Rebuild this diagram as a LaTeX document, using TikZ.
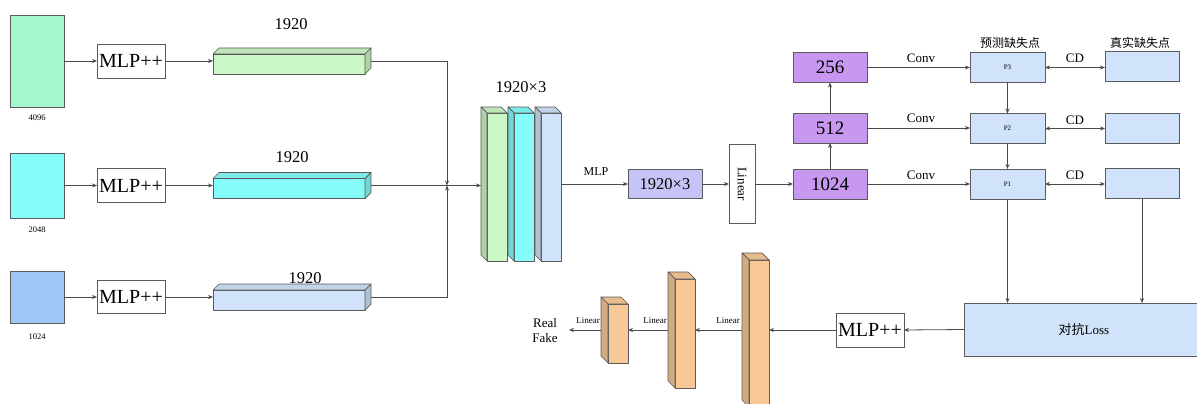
\documentclass[tikz,border=0pt]{standalone}
\usepackage{fontspec}
\setmainfont{Liberation Serif}
\newfontfamily\cjk{Noto Sans CJK SC}
\usetikzlibrary{arrows.meta,calc}
\definecolor{linec}{HTML}{4A4A4A}
\definecolor{edgec}{HTML}{5A5A5A}
\definecolor{mint}{HTML}{A6F6CC}
\definecolor{barG}{HTML}{CCF7C6}
\definecolor{cyanc}{HTML}{86FCFA}
\definecolor{bluec}{HTML}{A0C6F8}
\definecolor{lblue}{HTML}{D0E3FA}
\definecolor{lav}{HTML}{C6C4F6}
\definecolor{purp}{HTML}{C898F0}
\definecolor{orng}{HTML}{F8C996}
\newcommand{\mycubeR}[3]{%
  \coordinate (csw) at (#1.south west);
  \coordinate (cne) at (#1.north east);
  \coordinate (cnw) at (#1.north west);
  \coordinate (cse) at (#1.south east);
  \draw[face,fill=#2] (csw) rectangle ($(cne)+(-#3,-#3)$);
  \draw[face,fill=#2!93!black] ($(cnw)+(0,-#3)$) -- ($(cnw)+(#3,0)$) -- (cne) -- ($(cne)+(-#3,-#3)$) -- cycle;
  \draw[face,fill=#2!85!black] ($(cne)+(-#3,-#3)$) -- (cne) -- ($(cse)+(0,#3)$) -- ($(cse)+(-#3,0)$) -- cycle;
}
\newcommand{\mycubeL}[3]{%
  \coordinate (csw) at (#1.south west);
  \coordinate (cne) at (#1.north east);
  \coordinate (cnw) at (#1.north west);
  \coordinate (cse) at (#1.south east);
  \draw[face,fill=#2] ($(csw)+(#3,0)$) rectangle ($(cne)+(0,-#3)$);
  \draw[face,fill=#2!93!black] (cnw) -- ($(cne)+(-#3,0)$) -- ($(cne)+(0,-#3)$) -- ($(cnw)+(#3,-#3)$) -- cycle;
  \draw[face,fill=#2!85!black] (cnw) -- ($(cnw)+(#3,-#3)$) -- ($(csw)+(#3,0)$) -- ($(csw)+(0,#3)$) -- cycle;
}
\begin{document}
\begin{tikzpicture}[x=1pt,y=-1pt,
  line/.style={draw=linec, line width=0.8pt},
  arr/.style={line, -{Stealth[length=5pt,width=4pt]}},
  darr/.style={line, {Stealth[length=5pt,width=4pt]}-{Stealth[length=5pt,width=4pt]}},
  box/.style={draw=edgec, line width=0.8pt, inner sep=0pt, outer sep=0pt},
  bb/.style={inner sep=0pt, outer sep=0pt},
  face/.style={draw=edgec, line width=0.7pt, line join=round},
  lbl/.style={inner sep=0pt},
  fbig/.style={font=\fontsize{20}{24}\selectfont},
  fnum/.style={font=\fontsize{19}{22}\selectfont},
  fdim/.style={font=\fontsize{16.5}{20}\selectfont},
  fmid/.style={font=\fontsize{13}{15}\selectfont},
  fsm/.style={font=\fontsize{8.5}{10}\selectfont},
  ftiny/.style={font=\fontsize{7}{8}\selectfont},
  fcjk/.style={font={\cjk\fontsize{12}{14}\selectfont}},
]
\useasboundingbox (0,0) rectangle (1197,404);
% inputs
\node[box,fill=mint,minimum width=54pt,minimum height=92pt] (in1) at (37,61) {};
\node[box,fill=cyanc,minimum width=54pt,minimum height=65pt] (in2) at (37,185.5) {};
\node[box,fill=bluec,minimum width=54pt,minimum height=52pt] (in3) at (37,297) {};
\node[lbl,fsm] (t1) at (37,118) {4096};
\node[lbl,fsm] (t2) at (37,230) {2048};
\node[lbl,fsm] (t3) at (37,337) {1024};
% MLP++
\node[box,fill=white,minimum width=68pt,minimum height=34pt,fbig] (m1) at (131,61) {MLP++};
\node[box,fill=white,minimum width=68pt,minimum height=34pt,fbig] (m2) at (131,185.5) {MLP++};
\node[box,fill=white,minimum width=68pt,minimum height=33pt,fbig] (m3) at (131,297) {MLP++};
\draw[arr] (in1.east) -- (m1.west);
\draw[arr] (in2.east) -- (m2.west);
\draw[arr] (in3.east) -- (m3.west);
% bars
\node[bb,minimum width=158pt,minimum height=26pt] (bar1) at (292,61) {};
\node[bb,minimum width=158pt,minimum height=26pt] (bar2) at (292,185.5) {};
\node[bb,minimum width=158pt,minimum height=26pt] (bar3) at (292,297) {};
\mycubeR{bar1}{barG}{6pt}
\mycubeR{bar2}{cyanc}{6pt}
\mycubeR{bar3}{lblue}{6pt}
\node[lbl,fdim] (d1) at (291,24) {1920};
\node[lbl,fdim] (d2) at (292,157) {1920};
\node[lbl,fdim] (d3) at (305,278) {1920};
\draw[arr] (m1.east) -- (bar1.west);
\draw[arr] (m2.east) -- (bar2.west);
\draw[arr] (m3.east) -- (bar3.west);
% stacked
\node[bb,minimum width=26pt,minimum height=154pt] (g) at (494,184) {};
\node[bb,minimum width=26pt,minimum height=154pt] (c) at (521,184) {};
\node[bb,minimum width=26pt,minimum height=154pt] (b) at (548,184) {};
\mycubeL{g}{barG}{6pt}
\mycubeL{c}{cyanc}{6pt}
\mycubeL{b}{lblue}{6pt}
\node[lbl,fdim] (d4) at (521,87) {1920×3};
\coordinate (J) at (447,185.5);
\draw[arr] (bar1.east) -| (J);
\draw[arr] (bar3.east) -| (J);
\draw[arr] (bar2.east) -- (bar2.east -| g.west);
% middle
\node[box,fill=lav,minimum width=74pt,minimum height=29pt,fdim] (p19) at (665,184) {1920×3};
\node[box,fill=white,minimum width=26pt,minimum height=79pt] (lin) at (742,184) {};
\node[lbl,fmid,rotate=-90] (lint) at (lin.center) {Linear};
\node[lbl,font=\fontsize{12}{14}\selectfont] (mlpt) at (596,172) {MLP};
\draw[arr] (b.east) -- (p19.west);
\draw[arr] (p19.east) -- (lin.west);
% right column
\node[box,fill=purp,minimum width=74pt,minimum height=30pt,fnum] (n1024) at (830,184) {1024};
\node[box,fill=purp,minimum width=74pt,minimum height=30pt,fnum] (n512) at (830,128) {512};
\node[box,fill=purp,minimum width=74pt,minimum height=30pt,fnum] (n256) at (830,67.5) {256};
\draw[arr] (lin.east) -- (n1024.west);
\draw[arr] (n1024.north) -- (n512.south);
\draw[arr] (n512.north) -- (n256.south);
\node[box,fill=lblue,minimum width=75pt,minimum height=30pt,ftiny] (P3) at (1007.5,67.5) {P3};
\node[box,fill=lblue,minimum width=75pt,minimum height=30pt,ftiny] (P2) at (1007.5,128.5) {P2};
\node[box,fill=lblue,minimum width=75pt,minimum height=30pt,ftiny] (P1) at (1007.5,184) {P1};
\node[box,fill=lblue,minimum width=74pt,minimum height=30pt] (R3) at (1142,66.5) {};
\node[box,fill=lblue,minimum width=74pt,minimum height=30pt] (R2) at (1142,128.5) {};
\node[box,fill=lblue,minimum width=74pt,minimum height=30pt] (R1) at (1142,183.5) {};
\node[lbl,fcjk] (h1) at (1010,43) {预测缺失点};
\node[lbl,fcjk] (h2) at (1140,43) {真实缺失点};
\draw[arr] (n256.east) -- (n256.east -| P3.west);
\draw[arr] (n512.east) -- (n512.east -| P2.west);
\draw[arr] (n1024.east) -- (n1024.east -| P1.west);
\node[lbl,fmid] (cv3) at (921,58) {Conv};
\node[lbl,fmid] (cv2) at (921,118) {Conv};
\node[lbl,fmid] (cv1) at (921,175) {Conv};
\draw[darr] (P3.east) -- (P3.east -| R3.west);
\draw[darr] (P2.east) -- (P2.east -| R2.west);
\draw[darr] (P1.east) -- (P1.east -| R1.west);
\node[lbl,fmid] (cd3) at (1075,58) {CD};
\node[lbl,fmid] (cd2) at (1075,120) {CD};
\node[lbl,fmid] (cd1) at (1075,175) {CD};
\draw[arr] (P3.south) -- (P2.north);
\draw[arr] (P2.south) -- (P1.north);
% loss
\node[box,fill=lblue,minimum width=240pt,minimum height=53pt,fmid] (loss) at (1084,329.5) {{\cjk 对抗}Loss};
\draw[arr] (P1.south) -- (P1.south |- loss.north);
\draw[arr] (R1.south) -- (R1.south |- loss.north);
\node[box,fill=white,minimum width=68pt,minimum height=34pt,fbig] (mB) at (870,330) {MLP++};
\draw[arr] (loss.west) -- (mB.east);
% orange bars
\node[bb,minimum width=27pt,minimum height=66pt] (o1) at (614.5,330) {};
\node[bb,minimum width=27pt,minimum height=116pt] (o2) at (681.5,330) {};
\node[bb,minimum width=27pt,minimum height=154pt] (o3) at (755.5,330) {};
\mycubeL{o1}{orng}{7pt}
\mycubeL{o2}{orng}{7pt}
\mycubeL{o3}{orng}{7pt}
\draw[arr] (mB.west) -- (o3.east);
\draw[arr] (o3.west) -- (o2.east);
\draw[arr] (o2.west) -- (o1.east);
\coordinate (rft) at (569,330);
\draw[arr] (o1.west) -- (rft);
\node[lbl,fmid,align=center] (rf) at (545,330.5) {Real\\Fake};
\node[lbl,font=\fontsize{9}{10}\selectfont] (lk1) at (588,321) {Linear};
\node[lbl,font=\fontsize{9}{10}\selectfont] (lk2) at (655,321) {Linear};
\node[lbl,font=\fontsize{9}{10}\selectfont] (lk3) at (728,321) {Linear};
\end{tikzpicture}
\end{document}
